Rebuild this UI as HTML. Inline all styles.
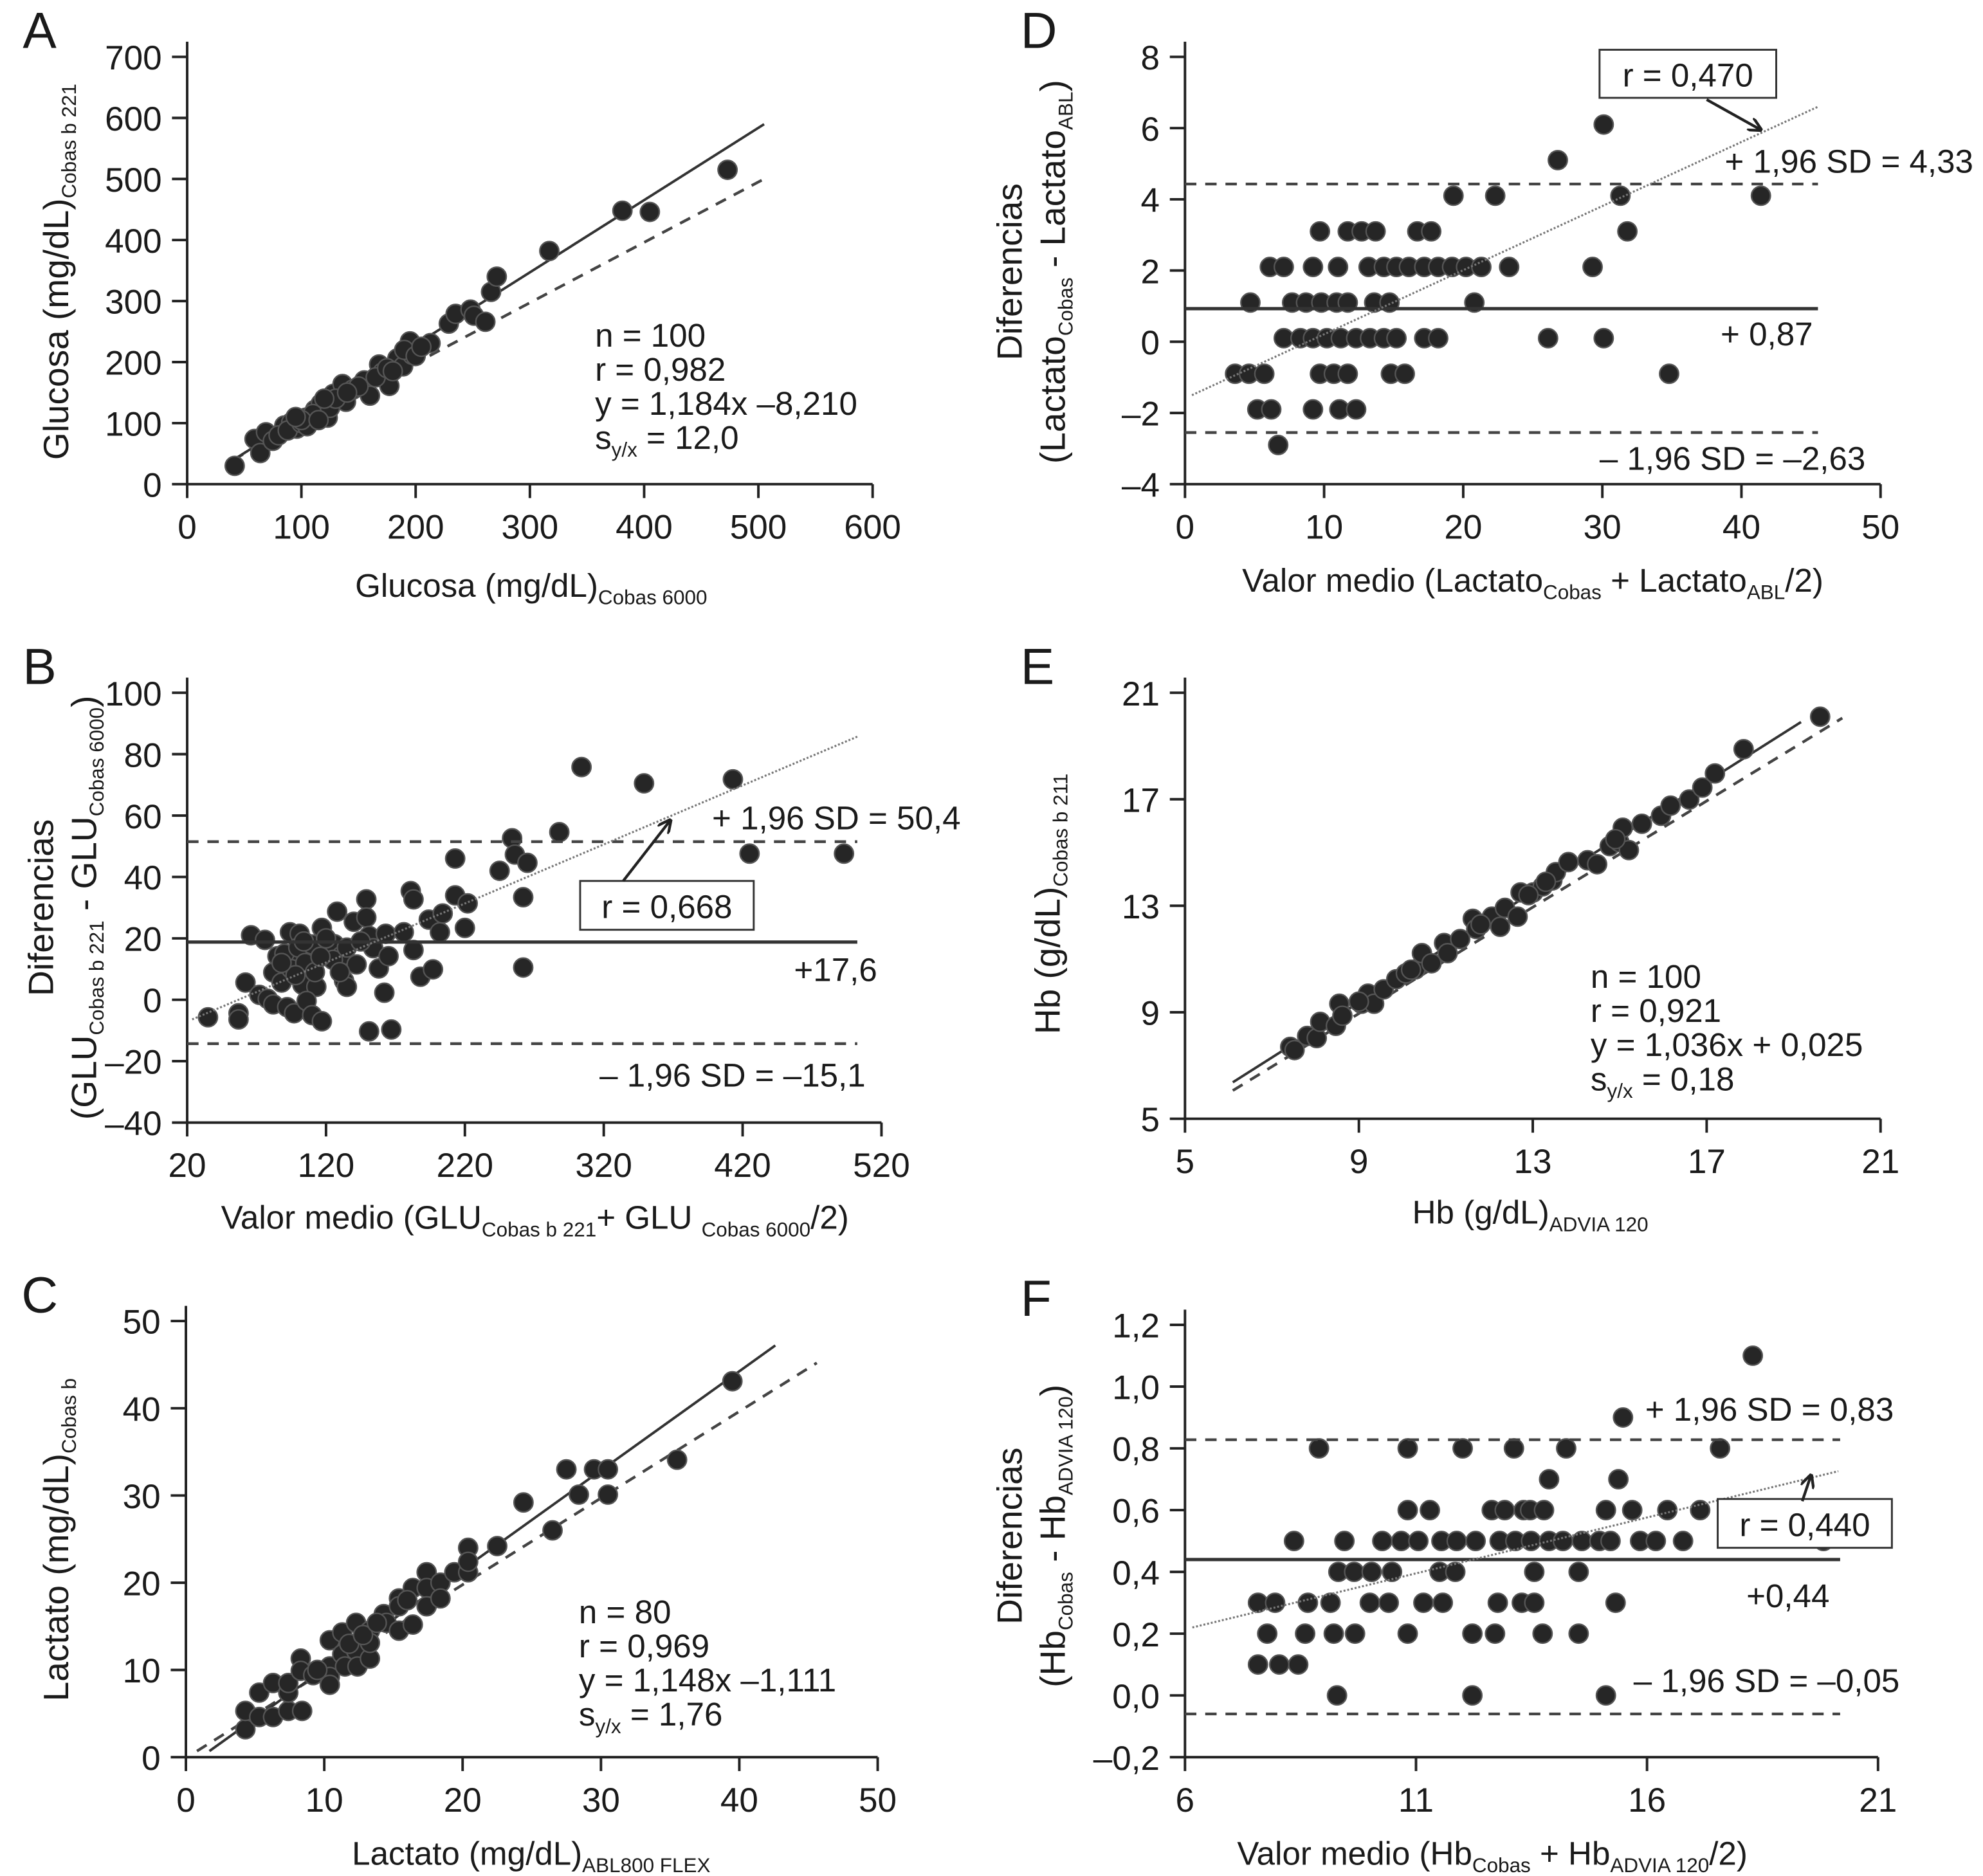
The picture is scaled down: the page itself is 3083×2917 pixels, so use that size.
<!DOCTYPE html>
<html><head><meta charset="utf-8">
<style>
html,body{margin:0;padding:0;background:#fff;}
svg{display:block;}
text{font-family:"Liberation Sans",Arial,sans-serif;fill:#1a1a1a;}
</style></head>
<body>
<svg id="fig" xmlns="http://www.w3.org/2000/svg" width="3083" height="2917" viewBox="0 0 1568 1484" preserveAspectRatio="none">
<defs>
<marker id="ah" viewBox="0 0 10 10" refX="9" refY="5" markerWidth="5" markerHeight="5" orient="auto"><path d="M0,0 L10,5 L0,10" fill="none" stroke="#222" stroke-width="2"/></marker>
</defs>
</svg>
<script>
// ---------- DATA ----------
const aPoints = [[41.6,30],[59,74],[64,51],[69,85],[75,71],[85,96],[91,101],[96,91],[104,109],[112,122],[117,132],[123,109],[128,148],[136,164],[139,135],[155,170],[160,145],[168,196],[171,183],[177,161],[184,206],[189,193],[195,234],[197,212],[213,231],[229,263],[235,279],[248,286],[251,276],[261,266],[266,315],[271,340],[317,382],[381,448],[405,446],[473,515],
[80,80],[88,88],[100,100],[105,95],[110,115],[125,125],[130,140],[145,155],[150,160],[165,175],[175,190],[180,185],[190,220],[200,210],[205,225],[100,105],[95,110],[115,105],[120,140],[140,150]];
const aFit = [[40,39.2],[505,589.7]];
const aIdentity = [[40,40],[505,500]];
const aTicksX = [0,100,200,300,400,500,600];
const aTicksY = [0,100,200,300,400,500,600,700];

const bPoints = [[35,-5.7],[57,-4.4],[57,-6.4],[62,5.6],[66,21],[76,19.5],[72,1.6],[78,0.3],[82,8.9],[85,14.2],[88,5.6],[82,-1.5],[92,-2.4],[97,-4.4],[94,22],[101,21.5],[99,11.5],[108,12.8],[103,4.9],[113,4.2],[106,-0.4],[110,-5],[117,-7],[117,23.4],[122,16.2],[126,18.1],[131,14.2],[128,28.7],[133,6.2],[135,4.2],[142,11.5],[140,25.4],[149,32.7],[149,26.8],[151,20.8],[154,16.8],[151,-10.3],[167,-9.7],[158,10.2],[162,2.3],[163,21.5],[165,14.2],[176,22],[181,35.4],[183,32.7],[183,16.2],[188,7.5],[197,9.9],[194,26.1],[202,22],[204,28.1],[213,46],[213,34],[220,23.4],[222,31.4],[245,42],[254,52.6],[256,47.3],[265,44.6],[262,33.4],[262,10.5],[288,54.6],[304,75.8],[349,70.5],[413,71.8],[425,47.6],[493,47.6],
[90,15],[95,10],[100,17],[105,12],[110,18],[112,9],[120,20],[125,13],[130,9],[135,17],[145,19],[98,8],[88,12],[104,19],[116,14]];
const bMean = 18.8, bUpper = 51.5, bLower = -14.3;
const bTrend = [[23.6,-6.4],[502.6,85.7]];
const bTicksX = [20,120,220,320,420,520];
const bTicksY = [-40,-20,0,20,40,60,80,100];

const cPoints = [[4.3,3.2],[4.3,5.3],[5.3,4.6],[5.3,7.4],[6.3,8.5],[6.3,4.6],[7.4,5.3],[7.4,7.4],[7.4,8.5],[8.4,5.3],[8.3,11.3],[8.3,9.9],[9.2,9.4],[10.4,13.4],[10.4,10.4],[10.4,9.2],[10.4,8.3],[11.3,14.3],[11.3,11.8],[11.5,10.4],[12.3,15.4],[12.3,12.2],[12.4,10.4],[13.3,14.5],[13.3,11.3],[13.3,13.1],[14.3,16.4],[14.5,15.4],[15.4,14.5],[15.4,18.2],[15.4,17.3],[16.4,15.2],[16.4,19.4],[17.4,21.2],[17.4,19.4],[17.4,17.3],[18.4,20.0],[18.4,18.2],[19.4,21.2],[20.4,24.0],[20.4,21.2],[20.4,22.4],[22.5,24.2],[24.4,29.2],[26.5,26.0],[27.5,33.0],[28.4,30.1],[29.5,33.0],[30.5,33.0],[30.5,30.1],[35.5,34.1],[39.5,43.1],
[11.8,13.0],[12.8,14.0],[13.8,15.4],[16.0,18.0],[9.5,10.0]];
const cFit = [[1.7,0.7],[42.6,47.2]];
const cIdentity = [[0.8,0.7],[45.6,45.2]];
const cTicksX = [0,10,20,30,40,50];
const cTicksY = [0,10,20,30,40,50];

const dPoints = [[30.1,6.1],[26.8,5.1],[19.3,4.1],[22.3,4.1],[31.3,4.1],[41.4,4.1],[9.7,3.1],[11.7,3.1],[12.7,3.1],[13.7,3.1],[16.7,3.1],[17.7,3.1],[31.8,3.1],
[6.1,2.1],[7.1,2.1],[9.2,2.1],[11.0,2.1],[13.2,2.1],[14.3,2.1],[15.2,2.1],[16.1,2.1],[17.2,2.1],[18.2,2.1],[19.2,2.1],[20.2,2.1],[21.3,2.1],[23.3,2.1],[29.3,2.1],
[4.7,1.1],[7.7,1.1],[8.7,1.1],[9.8,1.1],[10.9,1.1],[11.7,1.1],[13.6,1.1],[14.7,1.1],[20.8,1.1],
[7.1,0.1],[8.3,0.1],[9.2,0.1],[10.2,0.1],[11.2,0.1],[12.3,0.1],[13.3,0.1],[14.3,0.1],[15.2,0.1],[17.2,0.1],[18.2,0.1],[26.1,0.1],[30.1,0.1],
[3.6,-0.9],[4.6,-0.9],[5.7,-0.9],[9.7,-0.9],[10.7,-0.9],[11.7,-0.9],[14.8,-0.9],[15.8,-0.9],[34.8,-0.9],
[5.2,-1.9],[6.2,-1.9],[9.2,-1.9],[11.1,-1.9],[12.3,-1.9],[6.7,-2.9]];
const dMean = 0.93, dUpper = 4.43, dLower = -2.55;
const dTrend = [[0.5,-1.5],[45.5,6.6]];
const dTicksX = [0,10,20,30,40,50];
const dTicksY = [-4,-2,0,2,4,6,8];

const ePoints = [[7.42,7.70],[7.52,7.58],[7.81,8.11],[8.03,8.03],[8.11,8.64],[8.47,8.49],[8.55,9.32],[8.62,8.87],[9.06,9.32],[9.21,9.70],[9.35,9.32],[9.57,9.86],[9.86,10.24],[10.08,10.46],[10.30,10.61],[10.45,11.22],[10.67,10.84],[10.96,11.60],[11.04,11.22],[11.33,11.75],[11.62,12.51],[11.70,12.13],[12.06,12.59],[12.25,12.21],[12.36,12.92],[12.65,12.59],[12.72,13.50],[13.01,13.50],[13.23,13.73],[13.45,13.95],[13.53,14.26],[13.82,14.64],[14.26,14.71],[14.48,14.56],[14.77,15.24],[14.99,15.39],[15.07,15.93],[15.21,15.09],[15.51,16.08],[15.95,16.38],[16.17,16.76],[16.60,16.99],[16.90,17.44],[17.19,17.97],[17.85,18.88],[19.61,20.10],
[11.8,12.3],[12.9,13.4],[13.3,13.9],[14.9,15.5],[9.0,9.4],[10.2,10.6]];
const eFit = [[6.1,6.37],[19.17,19.9]];
const eIdentity = [[6.1,6.06],[20.12,20.05]];
const eTicksX = [5,9,13,17,21];
const eTicksY = [5,9,13,17,21];

const fPoints = [[18.29,1.1],[15.48,0.9],[8.90,0.8],[10.82,0.8],[12.01,0.8],[13.12,0.8],[14.25,0.8],[17.58,0.8],[13.88,0.7],[15.38,0.7],
[10.82,0.6],[11.30,0.6],[12.64,0.6],[12.92,0.6],[13.33,0.6],[13.47,0.6],[13.77,0.6],[15.11,0.6],[15.68,0.6],[16.44,0.6],[17.15,0.6],
[8.36,0.5],[9.45,0.5],[10.27,0.5],[10.68,0.5],[11.05,0.5],[11.55,0.5],[11.88,0.5],[12.29,0.5],[12.81,0.5],[13.15,0.5],[13.49,0.5],[13.88,0.5],[14.18,0.5],[14.59,0.5],[14.97,0.5],[15.21,0.5],[15.85,0.5],[16.19,0.5],[16.78,0.5],[19.82,0.5],
[9.32,0.4],[9.66,0.4],[10.04,0.4],[10.48,0.4],[11.51,0.4],[11.85,0.4],[13.56,0.4],[14.52,0.4],
[7.58,0.3],[7.95,0.3],[8.66,0.3],[9.15,0.3],[10.0,0.3],[10.41,0.3],[11.16,0.3],[11.58,0.3],[12.77,0.3],[13.29,0.3],[13.56,0.3],[15.32,0.3],
[7.78,0.2],[8.60,0.2],[9.22,0.2],[9.68,0.2],[10.82,0.2],[12.22,0.2],[12.71,0.2],[13.74,0.2],[14.52,0.2],
[7.58,0.1],[8.04,0.1],[8.45,0.1],[9.29,0.0],[12.22,0.0],[15.11,0.0]];
const fMean = 0.44, fUpper = 0.828, fLower = -0.06;
const fTrend = [[6.16,0.22],[20.14,0.726]];
const fTicksX = [6,11,16,21];
const fTicksY = [-0.2,0,0.2,0.4,0.6,0.8,1.0,1.2];

// ---------- DRAWING ----------
const NS = 'http://www.w3.org/2000/svg';
const svg = document.getElementById('fig');
function mk(tag, attrs, parent){
  const e = document.createElementNS(NS, tag);
  for (const k in attrs) e.setAttribute(k, attrs[k]);
  (parent||svg).appendChild(e);
  return e;
}
function fmt(v, dec){ return dec ? v.toFixed(dec).replace('.', ',').replace('-', '\u2013') : String(v).replace('-', '\u2013'); }
function richText(parent, parts, attrs){
  const t = mk('text', attrs, parent);
  let sub = false;
  parts.forEach(p => {
    const ts = document.createElementNS(NS,'tspan');
    if (p.s && !sub){ ts.setAttribute('dy','6'); ts.setAttribute('font-size','16'); sub = true; }
    else if (p.s){ ts.setAttribute('font-size','16'); }
    else if (!p.s && sub){ ts.setAttribute('dy','-6'); sub = false; }
    ts.textContent = p.t;
    t.appendChild(ts);
  });
  return t;
}

function panel(c){
  const g = mk('g', {});
  
  
  const X = v => c.px[0] + (v - c.dx[0]) / (c.dx[1] - c.dx[0]) * (c.px[1] - c.px[0]);
  const Y = v => c.py[0] + (v - c.dy[0]) / (c.dy[1] - c.dy[0]) * (c.py[1] - c.py[0]);
  const lt = mk('text', {x:c.px[0]-130, y:c.py[1]-7, 'font-size':40}, g);
  lt.textContent = c.id.toUpperCase();
  
  
  const ax = mk('g', {stroke:'#222','stroke-width':2, fill:'none'}, g);
  
  
  mk('line', {x1:c.px[0], y1:c.py[1]-12, x2:c.px[0], y2:c.py[0]}, ax);
  mk('line', {x1:c.px[0], y1:c.py[0], x2:c.px[1], y2:c.py[0]}, ax);
  c.tx.forEach(v => {
    mk('line', {x1:X(v), y1:c.py[0], x2:X(v), y2:c.py[0]+11}, ax);
    const t = mk('text', {x:X(v), y:c.py[0]+43, 'font-size':27, 'text-anchor':'middle'}, g);
    t.textContent = fmt(v, 0);
    
    
  });
  c.ty.forEach(v => {
    mk('line', {x1:c.px[0]-12, y1:Y(v), x2:c.px[0], y2:Y(v)}, ax);
    const t = mk('text', {x:c.px[0]-20, y:Y(v)+10, 'font-size':27, 'text-anchor':'end'}, g);
    t.textContent = fmt(v, c.tdec||0);
    
    
  });
  function seg(pts, style, name){
    const l = mk('line', Object.assign({x1:X(pts[0][0]), y1:Y(pts[0][1]), x2:X(pts[1][0]), y2:Y(pts[1][1]), fill:'none'}, style), g);
    
    
  }
  const solid = {stroke:'#333','stroke-width':2};
  const dashed = {stroke:'#444','stroke-width':2.2,'stroke-dasharray':'9,7'};
  const dotted = {stroke:'#777','stroke-width':1.6,'stroke-dasharray':'1.5,1.5'};
  if (c.fit){ seg(c.identity, dashed, 'identity-line'); seg(c.fit, solid, 'regression-line'); }
  const pg = mk('g', {fill:'#262626', stroke:'#555', 'stroke-width':1.2}, g);
  
  
  c.pts.forEach(p => {
    const ci = mk('circle', {cx:X(p[0]), cy:Y(p[1]), r:7.5}, pg);
    
    
  });
  if (c.mean !== undefined){
    seg([[c.dx[0], c.mean],[c.lineEnd, c.mean]], {stroke:'#333','stroke-width':2.6}, 'mean-line');
    seg([[c.dx[0], c.upper],[c.lineEnd, c.upper]], dashed, 'upper-limit-line');
    seg([[c.dx[0], c.lower],[c.lineEnd, c.lower]], dashed, 'lower-limit-line');
    seg(c.trend, dotted, 'trend-line');
  }
  (c.texts||[]).forEach(a => {
    const t = mk('text', {x:X(a[0]), y:Y(a[1])+10, 'font-size':26}, g);
    t.textContent = a[2];
    
    
  });
  if (c.stats){
    c.stats.lines.forEach((ln, i) => {
      const t = richText(g, ln, {x:X(c.stats.at[0]), y:Y(c.stats.at[1]) + 10 + i*27, 'font-size':26});
      
      
    });
  }
  if (c.box){
    const b = c.box;
    const r = mk('rect', {x:X(b[0]), y:Y(b[1]), width:X(b[2])-X(b[0]), height:Y(b[3])-Y(b[1]), fill:'#fff', stroke:'#333','stroke-width':1.5}, g);
    
    
    const t = mk('text', {x:(X(b[0])+X(b[2]))/2, y:(Y(b[1])+Y(b[3]))/2+10, 'font-size':26, 'text-anchor':'middle'}, g);
    t.textContent = b[4];
    
    
    const ar = mk('line', {x1:X(c.arrow[0][0]), y1:Y(c.arrow[0][1]), x2:X(c.arrow[1][0]), y2:Y(c.arrow[1][1]), stroke:'#222','stroke-width':2.2,'marker-end':'url(#ah)'}, g);
    
    
  }
  const xt = richText(g, c.xTitle, {x:c.xtPos[0], y:c.xtPos[1], 'font-size':26, 'text-anchor':'middle'});
  
  
  c.yTitle.forEach((ln, i) => {
    const xx = c.ytPos[i][0], yy = c.ytPos[i][1];
    const t = richText(g, ln, {x:xx, y:yy, 'font-size':28, 'text-anchor':'middle', transform:'rotate(-90 '+xx+' '+yy+')'});
    
    
  });
}

panel({id:'a', px:[148,690], py:[383,45], dx:[0,600], dy:[0,700], tx:aTicksX, ty:aTicksY, pts:aPoints, fit:aFit, identity:aIdentity,
  stats:{at:[357,246], lines:[[{t:'n = 100'}],[{t:'r = 0,982'}],[{t:'y = 1,184x \u20138,210'}],[{t:'s'},{t:'y/x',s:1},{t:' = 12,0'}]]},
  xTitle:[{t:'Glucosa (mg/dL)'},{t:'Cobas 6000',s:1}], xtPos:[420,472],
  yTitle:[[{t:'Glucosa (mg/dL)'},{t:'Cobas b 221',s:1}]], ytPos:[[54,215]]});

panel({id:'b', px:[148,697], py:[888,548], dx:[20,520], dy:[-40,100], tx:bTicksX, ty:bTicksY, pts:bPoints,
  mean:bMean, upper:bUpper, lower:bLower, trend:bTrend, lineEnd:502.6,
  texts:[[398,59.6,'+ 1,96 SD = 50,4','upper-limit-label'],[457,10.2,'+17,6','mean-label'],[317,-24.2,'\u2013 1,96 SD = \u201315,1','lower-limit-label']],
  box:[303,38.7,428,22.8,'r = 0,668'], arrow:[[334,38.7],[368,58.5]],
  xTitle:[{t:'Valor medio (GLU'},{t:'Cobas b 221',s:1},{t:'+ GLU '},{t:'Cobas 6000',s:1},{t:'/2)'}], xtPos:[423,972],
  yTitle:[[{t:'Diferencias'}],[{t:'(GLU'},{t:'Cobas b 221',s:1},{t:' - GLU'},{t:'Cobas 6000',s:1},{t:')'}]], ytPos:[[42,718],[76,718]]});

panel({id:'c', px:[147,694], py:[1390,1045], dx:[0,50], dy:[0,50], tx:cTicksX, ty:cTicksY, pts:cPoints, fit:cFit, identity:cIdentity,
  stats:{at:[28.4,16.8], lines:[[{t:'n = 80'}],[{t:'r = 0,969'}],[{t:'y = 1,148x  \u20131,111'}],[{t:'s'},{t:'y/x',s:1},{t:' = 1,76'}]]},
  xTitle:[{t:'Lactato (mg/dL)'},{t:'ABL800 FLEX',s:1}], xtPos:[420,1475],
  yTitle:[[{t:'Lactato (mg/dL)'},{t:'Cobas b',s:1}]], ytPos:[[54,1218]]});

panel({id:'d', px:[937,1487], py:[383,45], dx:[0,50], dy:[-4,8], tx:dTicksX, ty:dTicksY, pts:dPoints,
  mean:dMean, upper:dUpper, lower:dLower, trend:dTrend, lineEnd:45.5,
  texts:[[38.8,5.1,'+ 1,96 SD = 4,33','upper-limit-label'],[38.5,0.25,'+ 0,87','mean-label'],[29.8,-3.24,'\u2013 1,96 SD = \u20132,63','lower-limit-label']],
  box:[29.8,8.2,42.5,6.85,'r = 0,470'], arrow:[[37.5,6.8],[41.4,5.95]],
  xTitle:[{t:'Valor medio (Lactato'},{t:'Cobas',s:1},{t:' + Lactato'},{t:'ABL',s:1},{t:'/2)'}], xtPos:[1212,468],
  yTitle:[[{t:'Diferencias'}],[{t:'(Lactato'},{t:'Cobas',s:1},{t:' - Lactato'},{t:'ABL',s:1},{t:')'}]], ytPos:[[808,215],[842,215]]});

panel({id:'e', px:[937,1487], py:[885,548], dx:[5,21], dy:[5,21], tx:eTicksX, ty:eTicksY, pts:ePoints, fit:eFit, identity:eIdentity,
  stats:{at:[14.33,10.39], lines:[[{t:'n = 100'}],[{t:'r = 0,921'}],[{t:'y = 1,036x + 0,025'}],[{t:'s'},{t:'y/x',s:1},{t:' = 0,18'}]]},
  xTitle:[{t:'Hb (g/dL)'},{t:'ADVIA 120',s:1}], xtPos:[1210,968],
  yTitle:[[{t:'Hb (g/dL)'},{t:'Cobas b 211',s:1}]], ytPos:[[838,715]]});

panel({id:'f', px:[937,1485], py:[1390,1048], dx:[6,21], dy:[-0.2,1.2], tdec:1, tx:fTicksX, ty:fTicksY, pts:fPoints,
  mean:fMean, upper:fUpper, lower:fLower, trend:fTrend, lineEnd:20.18,
  texts:[[15.96,0.931,'+ 1,96 SD = 0,83','upper-limit-label'],[18.15,0.327,'+0,44','mean-label'],[15.71,0.052,'\u2013 1,96 SD = \u20130,05','lower-limit-label']],
  box:[17.53,0.636,21.3,0.478,'r = 0,440'], arrow:[[19.36,0.629],[19.55,0.713]],
  xTitle:[{t:'Valor medio (Hb'},{t:'Cobas',s:1},{t:' + Hb'},{t:'ADVIA 120',s:1},{t:'/2)'}], xtPos:[1180,1475],
  yTitle:[[{t:'Diferencias'}],[{t:'(Hb'},{t:'Cobas',s:1},{t:' - Hb'},{t:'ADVIA 120',s:1},{t:')'}]], ytPos:[[808,1215],[842,1215]]});
</script>
</body></html>
